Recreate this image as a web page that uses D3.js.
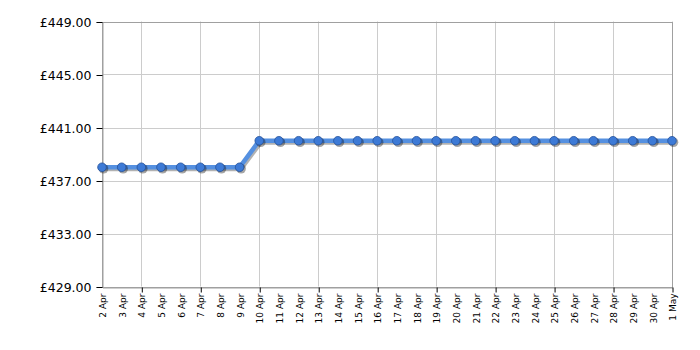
<!DOCTYPE html>
<html><head><meta charset="utf-8">
<script src="https://cdn.jsdelivr.net/npm/d3@7"></script>
<style>body{margin:0;background:#fff}svg{display:block}</style>
</head><body><div id="chart"></div>
<script>
const dates = ["2 Apr","3 Apr","4 Apr","5 Apr","6 Apr","7 Apr","8 Apr","9 Apr","10 Apr","11 Apr","12 Apr","13 Apr","14 Apr","15 Apr","16 Apr","17 Apr","18 Apr","19 Apr","20 Apr","21 Apr","22 Apr","23 Apr","24 Apr","25 Apr","26 Apr","27 Apr","28 Apr","29 Apr","30 Apr","1 May"];
const prices = [438,438,438,438,438,438,438,438,440,440,440,440,440,440,440,440,440,440,440,440,440,440,440,440,440,440,440,440,440,440];
const yTicks = [429,433,437,441,445,449];
const majorDates = ["4 Apr","7 Apr","10 Apr","13 Apr","16 Apr","19 Apr","22 Apr","25 Apr","28 Apr","1 May"];

const W=700,H=350, L=102,R=672,T=21.5,B=286.5;
const svg=d3.select("#chart").append("svg").attr("width",W).attr("height",H);
const x=d3.scalePoint().domain(dates).range([L,R]);
const y=d3.scaleLinear().domain([429,449]).range([B,T]);

svg.append("g").selectAll("line").data(yTicks).join("line")
  .attr("x1",L).attr("x2",R).attr("y1",d=>Math.round(y(d))+0.5).attr("y2",d=>Math.round(y(d))+0.5)
  .attr("stroke","#cccccc").attr("stroke-width",1);
svg.append("g").selectAll("line").data(majorDates).join("line")
  .attr("x1",d=>Math.round(x(d))+0.5).attr("x2",d=>Math.round(x(d))+0.5).attr("y1",T).attr("y2",B)
  .attr("stroke","#cccccc").attr("stroke-width",1);
svg.append("rect").attr("x",L+0.5).attr("y",Math.round(T)+0.5).attr("width",R-L).attr("height",Math.round(B)-Math.round(T))
  .attr("fill","none").attr("stroke","#a0a0a0");

const yAxis=d3.axisLeft(y).tickValues(yTicks).tickFormat(d=>"£"+d3.format(".2f")(d)).tickSize(6).tickPadding(5);
const gy=svg.append("g").attr("transform",`translate(${L+0.5},0.5)`).call(yAxis);
gy.select(".domain").attr("stroke","#a0a0a0");
gy.selectAll(".tick line").attr("stroke","#000");
gy.selectAll("text").attr("font-family","DejaVu Sans, Verdana, sans-serif").attr("font-size","12.5px").attr("fill","#000");

const xAxis=d3.axisBottom(x).tickSize(0).tickPadding(0);
const gx=svg.append("g").attr("transform",`translate(0.5,${Math.round(B)+0.5})`).call(xAxis);
gx.select(".domain").attr("stroke","#a0a0a0");
gx.selectAll(".tick text").attr("font-family","DejaVu Sans, Verdana, sans-serif").attr("font-size","9px").attr("fill","#000")
  .attr("transform","rotate(-90)").attr("text-anchor","end").attr("x",-6).attr("y",0).attr("dy","0.35em");
gx.selectAll(".tick").filter(d=>majorDates.includes(d)).append("line").attr("y1",0).attr("y2",5).attr("stroke","#000");

const line=d3.line().x(d=>x(d.d)).y(d=>y(d.p));
const data=dates.map((d,i)=>({d,p:prices[i]}));
svg.append("path").datum(data).attr("d",line).attr("fill","none").attr("stroke","#000").attr("stroke-opacity",0.3)
  .attr("stroke-width",4).attr("transform","translate(1.5,2)");
svg.append("path").datum(data).attr("d",line).attr("fill","none").attr("stroke","#5590e0").attr("stroke-width",4.5);
svg.append("g").selectAll("circle").data(data).join("circle")
  .attr("cx",d=>x(d.d)+1.5).attr("cy",d=>y(d.p)+1.5).attr("r",4.8).attr("fill","#000").attr("fill-opacity",0.35);
svg.append("g").selectAll("circle").data(data).join("circle")
  .attr("cx",d=>x(d.d)).attr("cy",d=>y(d.p)).attr("r",4.3).attr("fill","#3d7ad6").attr("stroke","#24529a").attr("stroke-width",0.8);
</script></body></html>
